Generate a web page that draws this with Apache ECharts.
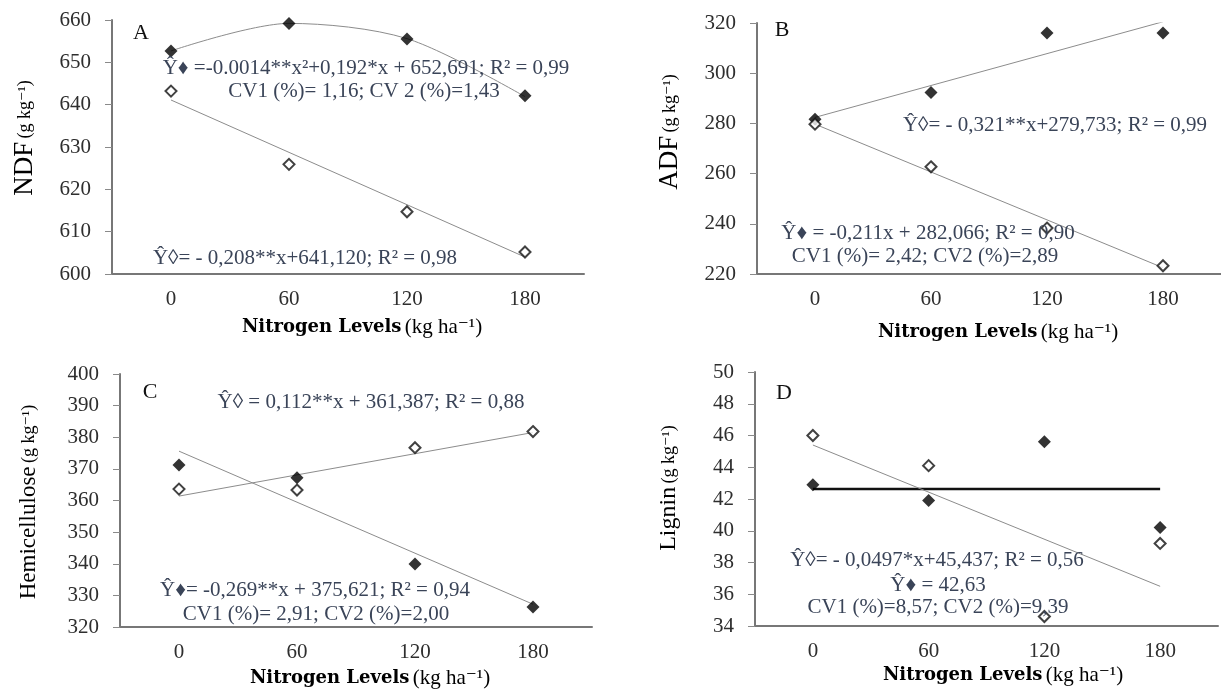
<!DOCTYPE html>
<html>
<head>
<meta charset="utf-8">
<script src="https://cdn.jsdelivr.net/npm/echarts@6/dist/echarts.min.js"></script>
<style>
  html, body { margin: 0; padding: 0; background: #fff; }
  #chart { width: 1221px; height: 689px; }
</style>
</head>
<body>
<div id="chart"></div>
<script>
// nitrogen levels (kg/ha)
const levels = [0, 60, 120, 180];
const levelLabels = ["0", "60", "120", "180"];

// A - NDF
const ndfFilled = [652.7, 659.2, 655.5, 642.1];
const ndfOpen = [643.2, 625.9, 614.7, 605.2];
const ndfFitFilled = [652.7, 659.2, 655.6, 641.9];
const ndfFitOpen = [641.1, 604.0];

// B - ADF
const adfFilled = [281.7, 292.3, 316.0, 316.0];
const adfOpen = [279.7, 262.7, 238.3, 223.3];
const adfFitFilled = [282.4, 320.5];
const adfFitOpen = [279.7, 222.5];

// C - Hemicellulose
const hemiFilled = [371.2, 367.2, 339.9, 326.3];
const hemiOpen = [363.6, 363.3, 376.7, 381.8];
const hemiFitFilled = [375.6, 327.2];
const hemiFitOpen = [361.4, 381.5];

// D - Lignin
const ligFilled = [42.9, 41.9, 45.6, 40.2];
const ligOpen = [46.0, 44.1, 34.6, 39.2];
const ligFitFilled = [42.63, 42.63];
const ligFitOpen = [45.4, 36.5];

const SERIF = "'Liberation Serif', 'DejaVu Serif', serif";
const EQ_COLOR = "#3a4458";

const panels = [
  { grid: { left: 112, top: 20, width: 472, height: 254 }, y: [600, 660, 10],
    filled: ndfFilled, open: ndfOpen, fitFilled: ndfFitFilled, fitOpen: ndfFitOpen, curve: true },
  { grid: { left: 757, top: 23, width: 464, height: 251 }, y: [220, 320, 20],
    filled: adfFilled, open: adfOpen, fitFilled: adfFitFilled, fitOpen: adfFitOpen },
  { grid: { left: 120, top: 374, width: 472, height: 253 }, y: [320, 400, 10],
    filled: hemiFilled, open: hemiOpen, fitFilled: hemiFitFilled, fitOpen: hemiFitOpen },
  { grid: { left: 755, top: 372, width: 463, height: 254 }, y: [34, 50, 2],
    filled: ligFilled, open: ligOpen, fitFilled: ligFitFilled, fitOpen: ligFitOpen, thick: true }
];

const grid = [], xAxis = [], yAxis = [], series = [];

panels.forEach((p, i) => {
  grid.push(p.grid);
  // visible category axis for labels and boundary ticks
  xAxis.push({
    type: "category",
    gridIndex: i,
    data: levelLabels,
    boundaryGap: true,
    axisLine: { lineStyle: { color: "#777", width: 2 } },
    axisTick: { length: 5, lineStyle: { color: "#b0b0b0" } },
    axisLabel: { color: "#2e2e2e", fontFamily: SERIF, fontSize: 21, margin: 15 }
  });
  // hidden value axis used for placing the data
  xAxis.push({ type: "value", gridIndex: i, min: -30, max: 210, show: false });
  yAxis.push({
    type: "value",
    gridIndex: i,
    min: p.y[0], max: p.y[1], interval: p.y[2],
    splitLine: { show: false },
    axisLine: { show: true, onZero: false, lineStyle: { color: "#777", width: 2 } },
    axisTick: { show: true, length: 7, lineStyle: { color: "#8a8a8a" } },
    axisLabel: { color: "#2e2e2e", fontFamily: SERIF, fontSize: 21, margin: 21 }
  });

  const xi = i * 2 + 1;
  const fitX = p.curve ? levels : [levels[0], levels[3]];
  series.push({
    type: "line", xAxisIndex: xi, yAxisIndex: i,
    data: fitX.map((x, k) => [x, p.fitFilled[k]]),
    smooth: p.curve ? 0.3 : false,
    symbol: "none", silent: true,
    lineStyle: p.thick ? { color: "#111", width: 2.5 } : { color: "#8c8c8c", width: 1 },
    z: 2
  });
  series.push({
    type: "line", xAxisIndex: xi, yAxisIndex: i,
    data: [levels[0], levels[3]].map((x, k) => [x, p.fitOpen[k]]),
    symbol: "none", silent: true,
    lineStyle: { color: "#8c8c8c", width: 1 },
    z: 2
  });
  series.push({
    type: "scatter", xAxisIndex: xi, yAxisIndex: i,
    data: levels.map((x, k) => [x, p.filled[k]]),
    symbol: "diamond", symbolSize: 13,
    itemStyle: { color: "#000" },
    z: 4
  });
  series.push({
    type: "scatter", xAxisIndex: xi, yAxisIndex: i,
    data: levels.map((x, k) => [x, p.open[k]]),
    symbol: "diamond", symbolSize: 11,
    itemStyle: { color: "#fff", borderColor: "#111", borderWidth: 2 },
    z: 5
  });
});

function label(x, y, text, opts = {}) {
  return {
    type: "text", x, y, z: 10,
    style: Object.assign({
      text, font: `21px ${SERIF}`, fill: EQ_COLOR,
      align: "center", verticalAlign: "middle"
    }, opts)
  };
}

const xTitleRich = {
  a: { fontFamily: "'DejaVu Serif', serif", fontWeight: "bold", fontSize: 18, color: "#1a1a1a" },
  b: { fontFamily: SERIF, fontSize: 21, color: "#4d5a7a" }
};

function yTitle(x, y, name, size) {
  return {
    type: "text", x, y, rotation: Math.PI / 2, z: 10,
    style: {
      text: `{a|${name}} {b|(g kg⁻¹)}`,
      rich: {
        a: { fontFamily: SERIF, fontSize: size, color: "#111" },
        b: { fontFamily: SERIF, fontSize: 18, color: "#59647a" }
      },
      align: "center", verticalAlign: "middle"
    }
  };
}
function xTitle(x, y) {
  return {
    type: "text", x, y, z: 10,
    style: { text: "{a|Nitrogen Levels} {b|(kg ha⁻¹)}", rich: xTitleRich, align: "center", verticalAlign: "middle" }
  };
}

const panelLetter = { font: `22px ${SERIF}`, fill: "#111" };

const graphic = [
  // A
  label(141, 33, "A", panelLetter),
  label(366, 68, "Ŷ♦ =-0.0014**x²+0,192*x + 652,691; R² = 0,99"),
  label(364, 91, "CV1 (%)= 1,16; CV 2 (%)=1,43"),
  label(305, 258, "Ŷ◊= - 0,208**x+641,120; R² = 0,98"),
  yTitle(25, 138, "NDF", 27),
  xTitle(362, 327),
  // B
  label(782, 30, "B", panelLetter),
  label(1055, 125, "Ŷ◊= - 0,321**x+279,733; R² = 0,99"),
  label(928, 233, "Ŷ♦ = -0,211x + 282,066; R² = 0,90"),
  label(925, 256, "CV1 (%)= 2,42; CV2 (%)=2,89"),
  yTitle(670, 132, "ADF", 27),
  xTitle(998, 332),
  // C
  label(150, 392, "C", panelLetter),
  label(371, 402, "Ŷ◊ = 0,112**x + 361,387; R² = 0,88"),
  label(315, 590, "Ŷ♦= -0,269**x + 375,621; R² = 0,94"),
  label(316, 614, "CV1 (%)= 2,91; CV2 (%)=2,00"),
  yTitle(29, 502, "Hemicellulose", 23),
  xTitle(370, 678),
  // D
  label(784, 393, "D", panelLetter),
  label(937, 560, "Ŷ◊= - 0,0497*x+45,437; R² = 0,56"),
  label(938, 585, "Ŷ♦ = 42,63"),
  label(938, 607, "CV1 (%)=8,57; CV2 (%)=9,39"),
  yTitle(669, 488, "Lignin", 24),
  xTitle(1003, 675)
];

const chart = echarts.init(document.getElementById("chart"), null, { renderer: "canvas" });
chart.setOption({
  backgroundColor: "#fff",
  animation: false,
  grid, xAxis, yAxis, series, graphic
});
</script>
</body>
</html>
